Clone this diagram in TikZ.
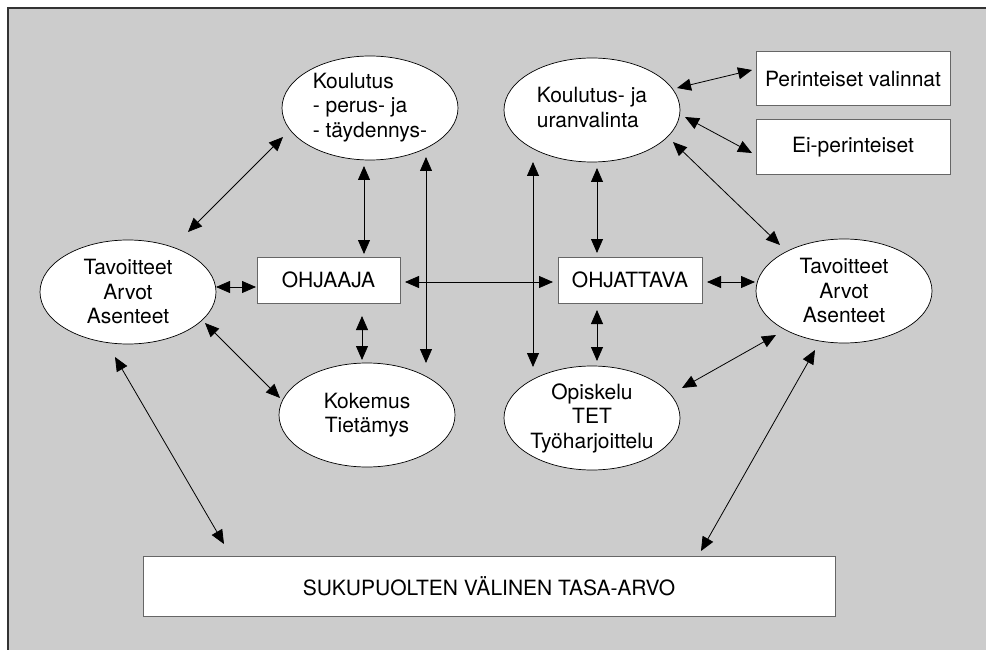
\documentclass[tikz,border=0pt]{standalone}
\usepackage{fontspec}
\setmainfont{TeX Gyre Heros}
\usetikzlibrary{arrows.meta,calc,shapes.geometric}
\definecolor{paper}{gray}{0.80}
\definecolor{boxline}{gray}{0.40}
\begin{document}
\begin{tikzpicture}[x=1pt,y=-1pt,
  txt/.style={font=\fontsize{21}{24.5}\selectfont},
  oval/.style={ellipse, draw=black, line width=0.7pt, fill=white,
    minimum width=176pt, minimum height=104pt, inner sep=0pt, align=center, txt},
  tbox/.style={rectangle, draw=boxline, line width=1pt, fill=white,
    inner sep=0pt, txt},
  link/.style={{Triangle[length=14pt,width=12pt]}-{Triangle[length=14pt,width=12pt]},
    line width=0.8pt}
]
\useasboundingbox (0,0) rectangle (986,650);
% backdrop and its frame
\fill[paper] (8,8) rectangle (986,650);
\draw[line width=1.5pt, black!80] (8,650) -- (8,8) -- (986,8);

% ellipses
\node[oval] (koul) at (370,108) {\begin{tabular}{@{}l@{}}Koulutus\\- perus- ja\\- täydennys-\end{tabular}};
\node[oval] (kju) at (592,110) {\begin{tabular}{@{}l@{}}Koulutus- ja\\uranvalinta\end{tabular}};
\node[oval] (ltav) at (128,292) {Tavoitteet\\Arvot\\Asenteet};
\node[oval] (kok) at (367,415) {Kokemus\\Tietämys};
\node[oval] (rtav) at (844,291) {Tavoitteet\\Arvot\\Asenteet};
\node[oval] (opisk) at (592,418) {Opiskelu\\TET\\Työharjoittelu};

% boxes
\node[tbox, minimum width=143pt, minimum height=46pt] (ohjaaja) at (328.5,280) {OHJAAJA};
\node[tbox, minimum width=144pt, minimum height=46pt] (ohjattava) at (630,280) {OHJATTAVA};
\node[tbox, minimum width=194pt, minimum height=54pt] (per) at (853,79) {Perinteiset valinnat};
\node[tbox, minimum width=194pt, minimum height=55pt] (eip) at (853,147.5) {Ei-perinteiset};
\node[tbox, minimum width=692pt, minimum height=60pt] (suk) at (489,586) {SUKUPUOLTEN VÄLINEN TASA-ARVO};

% connectors
\draw[link] ($(ltav)+(60,-60)$) -- ($(koul)+(-87,29)$);
\draw[link] ($(koul)+(-6,58)$) -- ($(ohjaaja)+(35.5,-26)$);
\draw[link] ($(koul)+(56,49)$) -- ($(kok)+(59,-52)$);
\draw[link] ($(ohjaaja)+(76.5,2)$) -- ($(ohjattava)+(-77,2)$);
\draw[link] ($(kju)+(-59,52)$) -- ($(opisk)+(-59,-51)$);
\draw[link] ($(kju)+(5,58)$) -- ($(ohjattava)+(-33,-27)$);
\draw[link] ($(ltav)+(88,-5)$) -- ($(ohjaaja)+(-72.5,7)$);
\draw[link] ($(ohjaaja)+(33.5,36)$) -- ($(kok)+(-5,-55)$);
\draw[link] ($(ltav)+(77,31)$) -- ($(kok)+(-87,-17)$);
\draw[link] ($(ltav)+(-13,65)$) -- ($(suk)+(-265,-42)$);
\draw[link] ($(ohjattava)+(77,2)$) -- ($(rtav)+(-89,-9)$);
\draw[link] ($(ohjattava)+(-33,30)$) -- ($(opisk)+(5,-57)$);
\draw[link] ($(opisk)+(90,-30)$) -- ($(rtav)+(-68,44)$);
\draw[link] ($(rtav)+(-29,59)$) -- ($(suk)+(212,-35)$);
\draw[link] ($(kju)+(85,-22)$) -- ($(per)+(-101,-9)$);
\draw[link] ($(kju)+(93,7)$) -- ($(eip)+(-101,5.5)$);
\draw[link] ($(kju)+(81,32)$) -- ($(rtav)+(-64,-46)$);
\end{tikzpicture}
\end{document}
